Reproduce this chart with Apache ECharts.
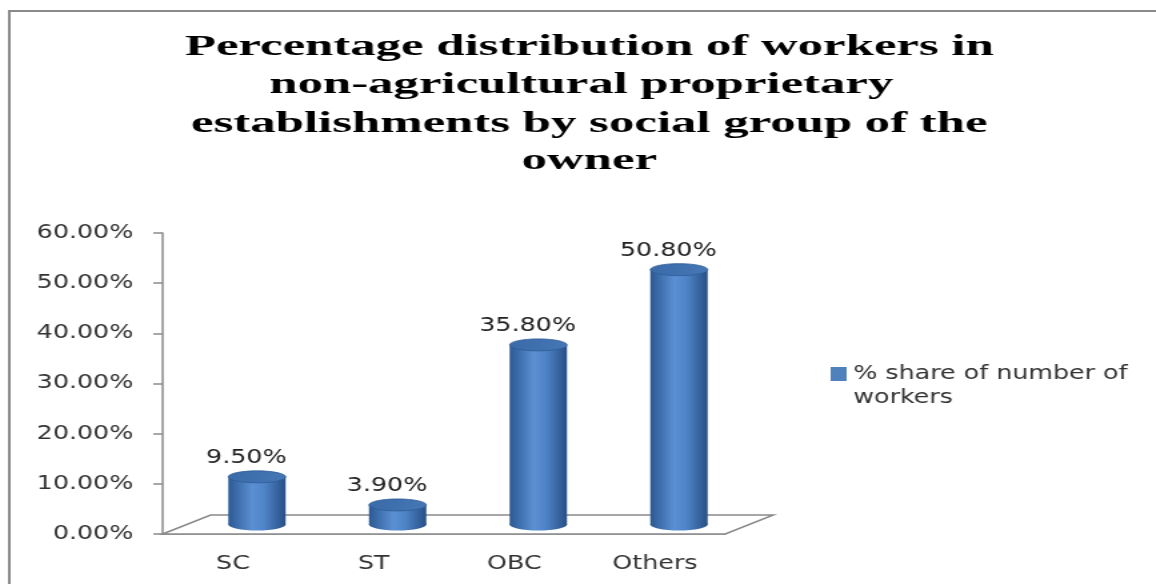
<!DOCTYPE html>
<html>
<head>
<meta charset="utf-8">
<script src="https://cdn.jsdelivr.net/npm/echarts@6/dist/echarts.min.js"></script>
<style>
  html, body { margin: 0; padding: 0; background: #fff; overflow: hidden; }
  /* the original picture is stretched sideways, so the chart is drawn narrow and widened */
  #main { width: 867px; height: 584px; transform: scaleX(1.3333); transform-origin: 0 0; }
</style>
</head>
<body>
<div id="main"></div>
<script>
var titleLines = [
    "Percentage distribution of workers in",
    "non-agricultural proprietary",
    "establishments by social group of the",
    "owner"
];
var categories = ["SC", "ST", "OBC", "Others"];
var seriesName = "% share of number of workers";
var shares = [0.095, 0.039, 0.358, 0.508];
var yTicks = [0, 0.1, 0.2, 0.3, 0.4, 0.5, 0.6];

// layout (unstretched px)
var gL = 122, gW = 422, gT = 233, gH = 301;
var depthX = 36, depthY = 19;
var barW = 43, capH = 12;

var chart = echarts.init(document.getElementById("main"));

function pct(v) {
    return (v * 100).toFixed(2) + "%";
}

function cylinder(params, api) {
    var top = api.coord([api.value(0), api.value(1)]);
    var base = api.coord([api.value(0), 0]);
    var cx = top[0], x0 = cx - barW / 2;
    var side = new echarts.graphic.LinearGradient(0, 0, 1, 0, [
        {offset: 0, color: "#2b5993"},
        {offset: 0.42, color: "#5b90d3"},
        {offset: 0.62, color: "#4f86c9"},
        {offset: 1, color: "#284f86"}
    ]);
    var cap = new echarts.graphic.LinearGradient(0, 0, 1, 1, [
        {offset: 0, color: "#3a6aa8"},
        {offset: 1, color: "#4677b6"}
    ]);
    return {
        type: "group",
        children: [
            {type: "ellipse", shape: {cx: cx, cy: base[1], rx: barW / 2, ry: capH / 2}, style: {fill: side}},
            {type: "rect", shape: {x: x0, y: top[1], width: barW, height: base[1] - top[1]}, style: {fill: side}},
            {type: "ellipse", shape: {cx: cx, cy: top[1], rx: barW / 2, ry: capH / 2},
                style: {fill: cap, stroke: "#2f5d96", lineWidth: 0.8}},
            {type: "text", x: cx - 8, y: top[1] - 19,
                style: {text: pct(api.value(1)), font: '19px "DejaVu Sans"', fill: "#222",
                    align: "center", verticalAlign: "middle"}}
        ]
    };
}

var titleX = [442, 436, 442, 442];
var titleY = [47, 85, 124, 161];
var titleTexts = titleLines.map(function (t, i) {
    return {type: "text", x: titleX[i], y: titleY[i], scaleX: 1.27, z: 5,
        style: {text: t, font: 'bold 30px "Liberation Serif"', fill: "#000",
            align: "center", verticalAlign: "middle"}};
});

var option = {
    animation: false,
    backgroundColor: "#fff",
    graphic: [
        {type: "rect", z: 0, shape: {x: 7, y: 11, width: 900, height: 620},
            style: {fill: "none", stroke: "#8a8a8a", lineWidth: 2}},
        {type: "polygon", z: 1,
            shape: {points: [[gL, gT + gH], [gL + depthX, gT + gH - depthY],
                [gL + gW + depthX, gT + gH - depthY], [gL + gW, gT + gH]]},
            style: {fill: "#fff", stroke: "#8a8a8a", lineWidth: 1.5}}
    ].concat(titleTexts),
    legend: {
        left: 623, top: 362, padding: 0,
        itemWidth: 12, itemHeight: 38,
        itemStyle: {borderWidth: 0},
        data: [{name: seriesName, icon: "path://M0 0H12V14H0Z M0 38H12"}],
        formatter: function () { return "% share of number of\nworkers"; },
        textStyle: {fontFamily: "DejaVu Sans", fontSize: 19, color: "#333", lineHeight: 24}
    },
    grid: [
        {left: gL, top: gT, width: gW, height: gH},
        {left: gL + depthX / 2, top: gT - depthY / 2, width: gW, height: gH}
    ],
    xAxis: [
        {type: "category", gridIndex: 0, data: categories,
            axisLine: {lineStyle: {color: "#8a8a8a", width: 1.5}},
            axisTick: {length: 7, interval: 0, lineStyle: {color: "#8a8a8a", width: 1.5}},
            axisLabel: {fontFamily: "DejaVu Sans", fontSize: 19, color: "#333", margin: 21}},
        {type: "category", gridIndex: 1, data: categories, show: false}
    ],
    yAxis: [
        {type: "value", gridIndex: 0, min: yTicks[0], max: yTicks[yTicks.length - 1], interval: 0.1,
            axisLine: {show: true, lineStyle: {color: "#8a8a8a", width: 1.5}},
            axisTick: {show: true, length: 7, lineStyle: {color: "#8a8a8a", width: 1.5}},
            splitLine: {show: false},
            axisLabel: {fontFamily: "DejaVu Sans", fontSize: 19, color: "#333", margin: 22, formatter: pct}},
        {type: "value", gridIndex: 1, min: yTicks[0], max: yTicks[yTicks.length - 1], interval: 0.1, show: false}
    ],
    series: [{
        type: "custom",
        name: seriesName,
        xAxisIndex: 1,
        yAxisIndex: 1,
        z: 3,
        itemStyle: {color: "#4f81bd"},
        renderItem: cylinder,
        data: shares.map(function (v, i) { return [i, v]; })
    }]
};

chart.setOption(option);
</script>
</body>
</html>
